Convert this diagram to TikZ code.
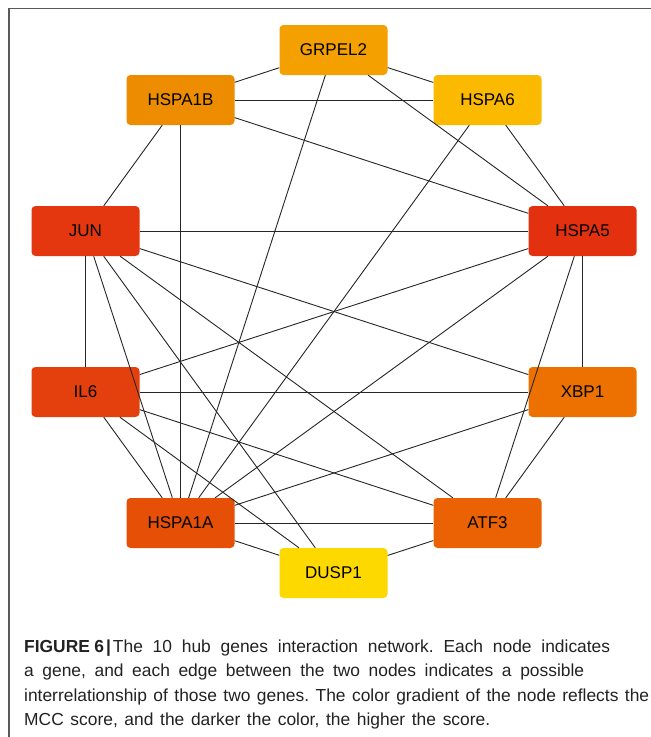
\documentclass[tikz,border=0pt]{standalone}
\usepackage{fontspec}
\setmainfont{Liberation Sans}
\definecolor{cGRPEL}{HTML}{F4A000}
\definecolor{cHSPAoneB}{HTML}{EE8C00}
\definecolor{cHSPAsix}{HTML}{FBBA00}
\definecolor{cJUN}{HTML}{E4370F}
\definecolor{cHSPAfive}{HTML}{E3300F}
\definecolor{cIL}{HTML}{E4400E}
\definecolor{cXBP}{HTML}{EC7100}
\definecolor{cHSPAoneA}{HTML}{E54F06}
\definecolor{cATF}{HTML}{EA6203}
\definecolor{cDUSP}{HTML}{FDD900}
\definecolor{captxt}{HTML}{222222}
\newcommand{\capline}[2]{\makebox[#1][s]{#2}}
\frenchspacing
\begin{document}
\begin{tikzpicture}[x=1pt,y=-1pt,
  gene/.style={rectangle, rounded corners=4pt, minimum width=108pt, minimum height=50pt,
    inner sep=0pt, text=black, font=\fontsize{17}{20}\selectfont},
  edge/.style={draw=black!85, line width=0.9pt},
  frameline/.style={draw=black!65, line width=1.4pt},
  caption/.style={anchor=base west, inner sep=0pt, text=captxt, font=\fontsize{17.4}{20}\selectfont}]
\useasboundingbox (0,0) rectangle (651,737);
\fill[white] (0,0) rectangle (651,737);
\draw[frameline] (9,737) -- (9,8.5) -- (651,8.5);

\node[gene, fill=cGRPEL]    (GRPEL2) at (333.5,50)  {GRPEL2};
\node[gene, fill=cHSPAoneB] (HSPA1B) at (180.5,100) {HSPA1B};
\node[gene, fill=cHSPAsix]  (HSPA6)  at (487.5,100) {HSPA6};
\node[gene, fill=cJUN]      (JUN)    at (85.5,231)  {JUN};
\node[gene, fill=cHSPAfive] (HSPA5)  at (582.5,231) {HSPA5};
\node[gene, fill=cIL]       (IL6)    at (85.5,392)  {IL6};
\node[gene, fill=cXBP]      (XBP1)   at (582.5,392) {XBP1};
\node[gene, fill=cHSPAoneA] (HSPA1A) at (180.5,523) {HSPA1A};
\node[gene, fill=cATF]      (ATF3)   at (487.5,523) {ATF3};
\node[gene, fill=cDUSP]     (DUSP1)  at (333.5,573) {DUSP1};

\draw[edge] (GRPEL2) -- (HSPA1B);
\draw[edge] (GRPEL2) -- (HSPA6);
\draw[edge] (GRPEL2) -- (HSPA5);
\draw[edge] (GRPEL2) -- (HSPA1A);
\draw[edge] (HSPA1B) -- (HSPA6);
\draw[edge] (HSPA1B) -- (HSPA5);
\draw[edge] (HSPA1B) -- (JUN);
\draw[edge] (HSPA1B) -- (HSPA1A);
\draw[edge] (HSPA6) -- (HSPA5);
\draw[edge] (HSPA6) -- (HSPA1A);
\draw[edge] (JUN) -- (HSPA5);
\draw[edge] (JUN) -- (IL6);
\draw[edge] (JUN) -- (HSPA1A);
\draw[edge] (JUN) -- (DUSP1);
\draw[edge] (JUN) -- (ATF3);
\draw[edge] (JUN) -- (XBP1);
\draw[edge] (HSPA5) -- (IL6);
\draw[edge] (HSPA5) -- (HSPA1A);
\draw[edge] (HSPA5) -- (ATF3);
\draw[edge] (HSPA5) -- (XBP1);
\draw[edge] (IL6) -- (XBP1);
\draw[edge] (IL6) -- (ATF3);
\draw[edge] (IL6) -- (HSPA1A);
\draw[edge] (IL6) -- (DUSP1);
\draw[edge] (XBP1) -- (HSPA1A);
\draw[edge] (XBP1) -- (ATF3);
\draw[edge] (HSPA1A) -- (ATF3);
\draw[edge] (HSPA1A) -- (DUSP1);
\draw[edge] (ATF3) -- (DUSP1);

\node[caption] (cap1) at (24,652) {\capline{586pt}{\textbf{FIGURE\hspace{4.5pt}6\hspace{2pt}|}\hspace{2pt}The 10 hub genes interaction network. Each node indicates}};
\node[caption] (cap2) at (24,676.5) {\capline{560pt}{a gene, and each edge between the two nodes indicates a possible}};
\node[caption] (cap3) at (24,701) {\capline{625pt}{interrelationship of those two genes. The color gradient of the node reflects the}};
\node[caption] (cap4) at (24,725) {\capline{466pt}{MCC score, and the darker the color, the higher the score.}};
\end{tikzpicture}
\end{document}
